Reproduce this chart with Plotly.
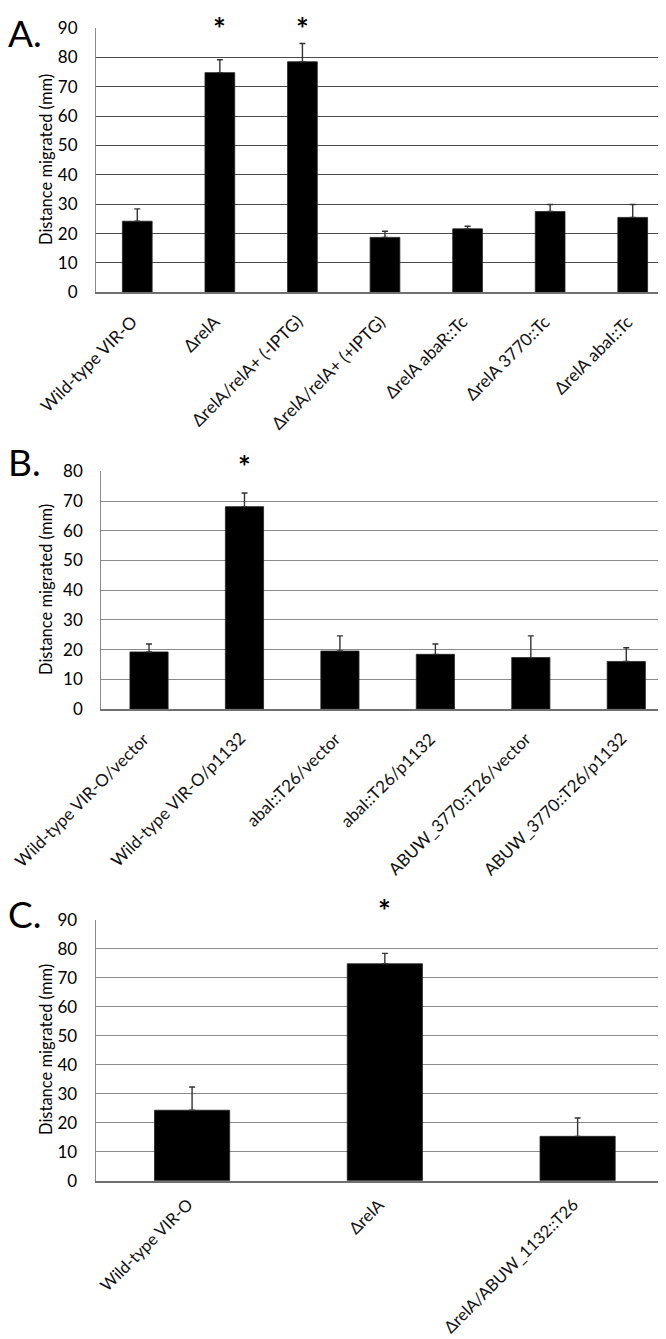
import plotly.graph_objects as go

# ---------------- data ----------------
cats_a = ["Wild-type VIR-O", "ΔrelA", "ΔrelA/relA+ (-IPTG)", "ΔrelA/relA+ (+IPTG)",
          "ΔrelA abaR::Tc", "ΔrelA 3770::Tc", "ΔrelA abaI::Tc"]
vals_a = [24.2, 74.8, 78.5, 18.7, 21.6, 27.5, 25.5]
err_a = [4.2, 4.4, 6.2, 2.1, 0.9, 2.4, 4.4]
sig_a = ["ΔrelA", "ΔrelA/relA+ (-IPTG)"]

cats_b = ["Wild-type VIR-O/vector", "Wild-type VIR-O/p1132", "abaI::T26/vector",
          "abaI::T26/p1132", "ABUW_3770::T26/vector", "ABUW_3770::T26/p1132"]
vals_b = [19.2, 68.1, 19.5, 18.4, 17.3, 16.0]
err_b = [2.7, 4.6, 5.1, 3.5, 7.3, 4.6]
sig_b = ["Wild-type VIR-O/p1132"]

cats_c = ["Wild-type VIR-O", "ΔrelA", "ΔrelA/ABUW_1132::T26"]
vals_c = [24.3, 74.8, 15.3]
err_c = [8.0, 3.6, 6.3]
sig_c = ["ΔrelA"]

ytitle = "Distance migrated (mm)"
panel_letters = ["A.", "B.", "C."]

# ---------------- layout helpers ----------------
W, H = 666, 1339
FONT = "Lato, 'Open Sans', sans-serif"

def py(px):
    return 1 - px / H

def px_x(px):
    return px / W

panels = [
    dict(cats=cats_a, vals=vals_a, err=err_a, sig=sig_a, ymax=90, width=0.36,
         x0=88.0, top=20.0, bot=284.3, grid="#4a4a4a", title_y=152,
         letter_top=0, star_top=0, lab_size=17.3, lab_shift=-16),
    dict(cats=cats_b, vals=vals_b, err=err_b, sig=sig_b, ymax=80, width=0.40,
         x0=93.3, top=463.3, bot=701.0, grid="#8a8a8a", title_y=582,
         letter_top=429, star_top=438, lab_size=17.0, lab_shift=-16),
    dict(cats=cats_c, vals=vals_c, err=err_c, sig=sig_c, ymax=90, width=0.39,
         x0=87.7, top=911.7, bot=1172.7, grid="#8a8a8a", title_y=1042,
         letter_top=881, star_top=882, lab_size=16.6, lab_shift=-11),
]

fig = go.Figure()
annotations = []
layout = dict(
    template="none",
    width=W, height=H,
    margin=dict(l=0, r=0, t=0, b=0, pad=0),
    paper_bgcolor="white", plot_bgcolor="white",
    showlegend=False,
    font=dict(family=FONT, color="black"),
)

for i, p in enumerate(panels):
    n = "" if i == 0 else str(i + 1)
    xa, ya = "x" + n, "y" + n
    fig.add_trace(go.Bar(
        x=p["cats"], y=p["vals"], xaxis=xa, yaxis=ya, width=p["width"],
        marker=dict(color="black", line=dict(color="#222", width=0.8)),
        error_y=dict(type="data", array=p["err"], arrayminus=[0] * len(p["err"]),
                     symmetric=False, color="#333", thickness=1.4, width=3),
        hoverinfo="x+y",
    ))
    layout["xaxis" + n] = dict(
        domain=[px_x(p["x0"]), 1.0], anchor=ya, type="category",
        categoryorder="array", categoryarray=p["cats"], automargin=False,
        range=[-0.5, len(p["cats"]) - 0.5], autorange=False,
        showticklabels=False,
        showline=True, linecolor="#707070", linewidth=2,
        showgrid=False, zeroline=False, ticks="", fixedrange=True,
    )
    layout["yaxis" + n] = dict(
        domain=[py(p["bot"]), py(p["top"])], anchor=xa, automargin=False,
        range=[0, p["ymax"]], autorange=False, dtick=10, tick0=0,
        showgrid=True, gridcolor=p["grid"], gridwidth=1.3,
        zeroline=False,
        showline=True, linecolor="#8a8a8a", linewidth=1.2,
        ticks="", ticklabelstandoff=14,
        tickfont=dict(family=FONT, size=17, color="black"), fixedrange=True,
    )
    for c in p["cats"]:
        annotations.append(dict(
            text=c, textangle=-45, x=c, y=py(p["bot"]), xref=xa, yref="paper",
            showarrow=False, xanchor="right", yanchor="top",
            xshift=7, yshift=p["lab_shift"],
            font=dict(family=FONT, size=p["lab_size"], color="#111"),
        ))
    annotations.append(dict(
        text=ytitle, textangle=-90, x=px_x(38), y=py(p["title_y"]),
        xref="paper", yref="paper", showarrow=False,
        font=dict(family=FONT, size=16.5, color="black"),
        xanchor="center", yanchor="middle",
    ))
    annotations.append(dict(
        text=panel_letters[i], x=0, y=py(p["letter_top"]),
        xref="paper", yref="paper", showarrow=False,
        font=dict(family=FONT, size=37, color="black"),
        xanchor="left", yanchor="top", xshift=-2,
    ))
    for c in p["sig"]:
        annotations.append(dict(
            text="<b>*</b>", x=c, y=py(p["star_top"]), xref=xa, yref="paper",
            showarrow=False, font=dict(family=FONT, size=30, color="black"),
            xanchor="center", yanchor="top",
        ))

layout["annotations"] = annotations
fig.update_layout(**layout)
fig.write_html("out.html")
